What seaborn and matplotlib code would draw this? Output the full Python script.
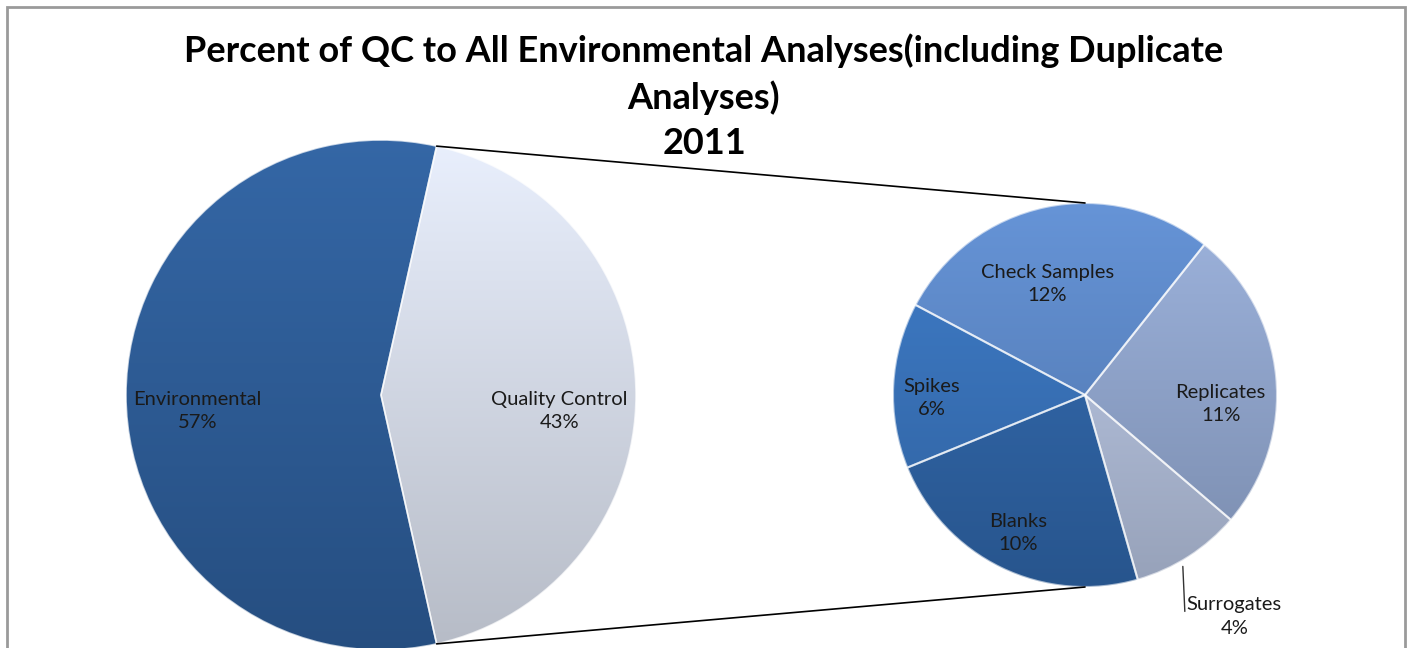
import numpy as np
import matplotlib
matplotlib.use("Agg")
import matplotlib.pyplot as plt
import matplotlib.colors as mcolors
import seaborn as sns

sns.set_theme(style="white")
plt.rcParams["font.family"] = ["Lato", "DejaVu Sans"]

title_lines = ["Percent of QC to All Environmental Analyses(including Duplicate",
               "Analyses)",
               "2011"]

main_labels = ["Quality Control", "Environmental"]
main_values = [43, 57]
main_colors = ["#D9DFEC", "#2D5D99"]

qc_labels = ["Check Samples", "Replicates", "Surrogates", "Blanks", "Spikes"]
qc_values = [12, 11, 4, 10, 6]
qc_colors = ["#5C88C8", "#91A6CE", "#B3C0DC", "#2F65A8", "#3873BC"]

# label layout: distance (fraction of radius) and pixel nudge
main_label_pos = [(0.70, 0, -16), (0.72, 0, -16)]
qc_label_pos = [(0.60, -14, -2), (0.71, 0, -22), (None, -9, -5), (0.80, 0, 0), (0.80, 0, -11)]


def shade(wedges, center, radius):
    # vertical gradient, lighter at the top like the excel bevel look
    for w in wedges:
        rgb = np.array(mcolors.to_rgb(w.get_facecolor()))
        t = np.linspace(1, 0, 200)[:, None]
        top = np.clip(rgb * 1.05 + 0.02, 0, 1)
        bot = rgb * 0.84
        img = (top * t + bot * (1 - t))[:, None, :]
        im = ax.imshow(img, extent=[center[0] - radius, center[0] + radius,
                                    center[1] - radius, center[1] + radius],
                       aspect="auto", zorder=1.5, interpolation="bilinear")
        im.set_clip_path(w)
        w.set_facecolor("none")
        w.set_zorder(2)


fig = plt.figure(figsize=(14.08, 6.48), dpi=100)
ax = fig.add_axes([0, 0, 1, 1])

left_c = (381, 253)
left_r = 255
right_c = (1085, 253)
right_r = 192

qc_share = main_values[0] / sum(main_values)
wedges_main, _ = ax.pie(main_values, colors=main_colors, center=left_c, radius=left_r,
                        startangle=-qc_share * 180, counterclock=True,
                        wedgeprops=dict(edgecolor=(1, 1, 1, 0.7), linewidth=1.2))
wedges_qc, _ = ax.pie(qc_values, colors=qc_colors, center=right_c, radius=right_r,
                      startangle=152, counterclock=False,
                      wedgeprops=dict(edgecolor=(1, 1, 1, 0.6), linewidth=1.5))
shade(wedges_main, left_c, left_r)
shade(wedges_qc, right_c, right_r)

ax.set_xlim(0, 1408)
ax.set_ylim(0, 648)
ax.set_aspect("equal")
ax.axis("off")

lab_kw = dict(fontsize=14.5, color="#1a1a1a", linespacing=1.45, zorder=5)

for w, lab, v, (d, nx, ny) in zip(wedges_main, main_labels, main_values, main_label_pos):
    mid = np.deg2rad((w.theta1 + w.theta2) / 2)
    x = left_c[0] + d * left_r * np.cos(mid) + nx
    y = left_c[1] + d * left_r * np.sin(mid) + ny
    ax.text(x, y, f"{lab}\n{v}%", ha="center", va="center", **lab_kw)

for w, lab, v, (d, nx, ny) in zip(wedges_qc, qc_labels, qc_values, qc_label_pos):
    mid = np.deg2rad((w.theta1 + w.theta2) / 2)
    if d is None:
        # outside label with leader line
        x0 = right_c[0] + right_r * 1.03 * np.cos(mid) + nx
        y0 = right_c[1] + right_r * 1.03 * np.sin(mid) + ny
        ax.plot([x0, x0 + 2], [y0, y0 - 45], color="#333333", lw=1, zorder=5)
        ax.text(x0 + 4, y0 - 30, f"{lab}\n{v}%", ha="left", va="top",
                multialignment="center", **lab_kw)
        continue
    x = right_c[0] + d * right_r * np.cos(mid) + nx
    y = right_c[1] + d * right_r * np.sin(mid) + ny
    ax.text(x, y, f"{lab}\n{v}%", ha="center", va="center", **lab_kw)

# connector lines from the QC slice to the second pie
qc_w = wedges_main[0]
for ang, ty in [(qc_w.theta2, right_c[1] + right_r), (qc_w.theta1, right_c[1] - right_r)]:
    a = np.deg2rad(ang)
    ax.plot([left_c[0] + left_r * np.cos(a), right_c[0]],
            [left_c[1] + left_r * np.sin(a), ty], color="black", lw=1.2, zorder=3)

# title
for txt, ty in zip(title_lines, [597, 550, 505]):
    ax.text(704, ty, txt, ha="center", va="center", fontsize=26,
            fontweight="bold", color="black")

# chart border
ax.add_patch(plt.Rectangle((6.5, -20), 1398, 648 - 6.5 + 20, fill=False,
                           edgecolor="#9A9A9A", lw=2, zorder=6))

fig.savefig("out.png", dpi=100)
